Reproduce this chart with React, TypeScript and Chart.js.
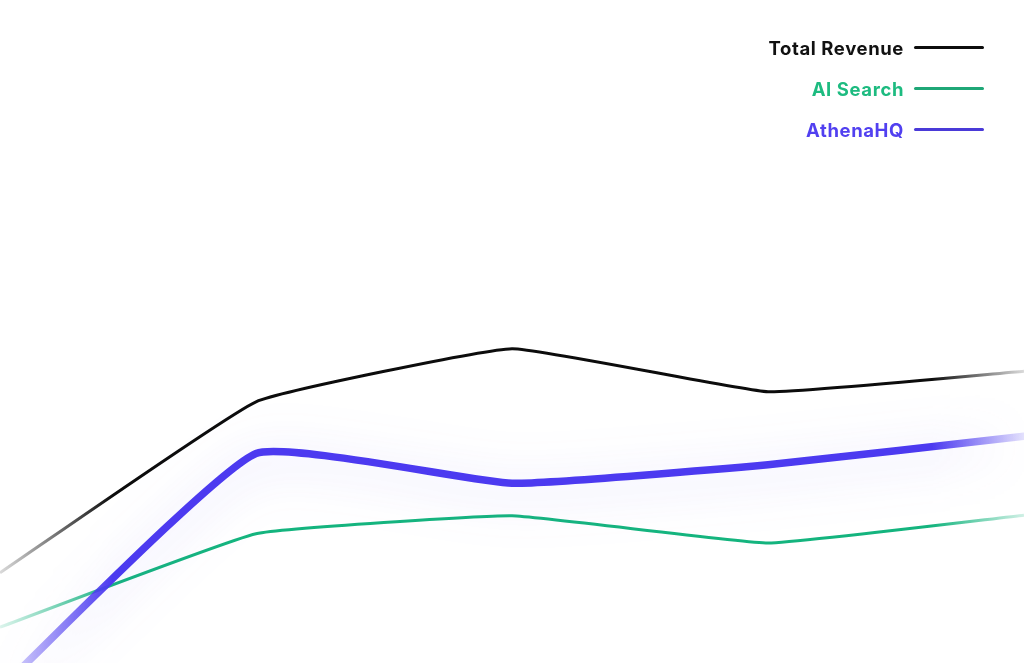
import React, { useEffect, useRef } from 'react'
import { Chart, registerables } from 'chart.js'

Chart.register(...registerables)

const categories = ['Q1', 'Q2', 'Q3', 'Q4', 'Q5']
const totalRevenue = [13.6, 39.4, 47.4, 40.9, 44.0]
const aiSearch = [5.4, 19.5, 22.2, 18.1, 22.3]
const athenaHQ = [-3.9, 31.6, 27.1, 29.9, 34.2]

const legendItems = [
  { label: 'Total Revenue', color: '#111111', line: '#0d0d0d' },
  { label: 'AI Search', color: '#1dbb80', line: '#1fa777' },
  { label: 'AthenaHQ', color: '#5140f0', line: '#4a3ad8' },
]

// left/right fade on each line
function fadeStroke(rgb: string, left: number, right: number) {
  return (ctx: any) => {
    const { chart } = ctx
    const area = chart.chartArea
    if (!area) return `rgb(${rgb})`
    const g = chart.ctx.createLinearGradient(area.left, 0, area.right, 0)
    g.addColorStop(0, `rgba(${rgb},${left})`)
    g.addColorStop(0.11, `rgba(${rgb},1)`)
    g.addColorStop(0.91, `rgba(${rgb},1)`)
    g.addColorStop(1, `rgba(${rgb},${right})`)
    return g
  }
}

const glowPlugin = {
  id: 'glow',
  beforeDatasetDraw(chart: any, args: any) {
    if (args.index !== 2) return
    const c = chart.ctx
    c.save()
    c.shadowColor = 'rgba(95,80,235,0.3)'
    c.shadowBlur = 50
    c.shadowOffsetY = 8
  },
  afterDatasetDraw(chart: any, args: any) {
    if (args.index !== 2) return
    chart.ctx.restore()
  },
}

function RevenueChart() {
  const ref = useRef<HTMLCanvasElement>(null)

  useEffect(() => {
    const el = ref.current
    if (!el) return

    const toPoints = (arr: number[]) => arr.map((v, i) => ({ x: i, y: v }))

    const chart = new Chart(el, {
      type: 'line',
      data: {
        labels: categories,
        datasets: [
          {
            label: 'Total Revenue',
            data: toPoints(totalRevenue),
            borderColor: fadeStroke('12,12,12', 0.15, 0.15),
            borderWidth: 3,
            tension: 0.1,
            pointRadius: 0,
            order: 1,
          },
          {
            label: 'AI Search',
            data: toPoints(aiSearch),
            borderColor: fadeStroke('20,180,126', 0.15, 0.2),
            borderWidth: 3,
            tension: 0.1,
            pointRadius: 0,
            order: 2,
          },
          {
            label: 'AthenaHQ',
            data: toPoints(athenaHQ),
            borderColor: fadeStroke('76,58,240', 0.15, 0.15),
            borderWidth: 7.5,
            tension: 0.13,
            pointRadius: 0,
            borderCapStyle: 'round',
            borderJoinStyle: 'round',
            order: 0,
          },
        ],
      },
      options: {
        animation: false,
        responsive: true,
        maintainAspectRatio: false,
        layout: { padding: 0 },
        plugins: {
          legend: { display: false },
          tooltip: { enabled: false },
        },
        scales: {
          x: { type: 'linear', min: 0, max: 4, display: false },
          y: { min: 0, max: 100, display: false },
        },
      },
      plugins: [glowPlugin],
    })

    return () => {
      chart.destroy()
    }
  }, [])

  return (
    <div style={{ position: 'fixed', left: 0, top: 0, width: 1024, height: 663, background: '#fff' }}>
      <canvas ref={ref}></canvas>
      <div style={{ position: 'absolute', right: 40, top: 27, fontFamily: 'Inter, sans-serif' }}>
        {legendItems.map((item) => (
          <div
            key={item.label}
            style={{ display: 'flex', alignItems: 'center', justifyContent: 'flex-end', height: 41 }}
          >
            <span style={{ color: item.color, fontSize: 18.5, fontWeight: 700, letterSpacing: 0.6 }}>
              {item.label}
            </span>
            <span
              style={{ display: 'inline-block', width: 70, height: 3.5, marginLeft: 10, background: item.line, borderRadius: 2 }}
            ></span>
          </div>
        ))}
      </div>
    </div>
  )
}

export default function App() {
  return <RevenueChart />
}
